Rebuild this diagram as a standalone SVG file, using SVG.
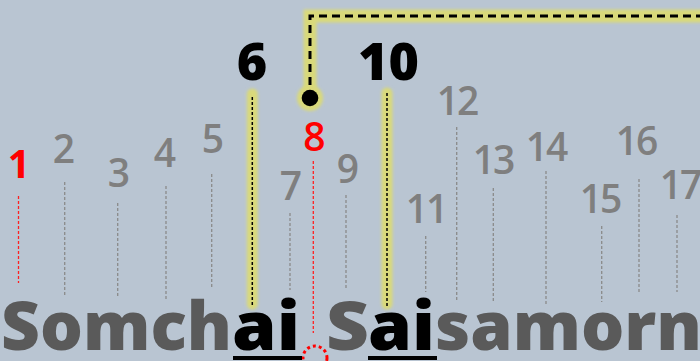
<svg xmlns="http://www.w3.org/2000/svg" width="700" height="361" viewBox="0 0 700 361">
<defs>
<filter id="glow" filterUnits="userSpaceOnUse" x="-20" y="-20" width="760" height="400"><feGaussianBlur stdDeviation="1.6"/></filter>
<style>
.lbl{font-family:"Open Sans","Noto Sans",sans-serif;font-size:39px;font-weight:600;fill:#7f7f7f;text-anchor:middle;letter-spacing:-2px}
.red{fill:#ff0000}
.big{font-family:"Open Sans","Noto Sans",sans-serif;font-size:52px;font-weight:800;fill:#000;text-anchor:middle}
.tick{stroke:#8a8a8a;stroke-width:1.3;stroke-dasharray:3 2;fill:none}
.tickr{stroke:#ff2020;stroke-width:1.3;stroke-dasharray:3 2;fill:none}
.hl{stroke:#d9d97a;stroke-width:11;stroke-linecap:round;fill:none;filter:url(#glow)}
.hlk{stroke:#000;stroke-width:1.5;stroke-dasharray:3 2;fill:none}
.name{font-family:"Open Sans","Noto Sans",sans-serif;font-size:67px;font-weight:800}
.g{fill:#5a5a5a}
.k{fill:#000}
</style>
</defs>
<rect width="700" height="361" fill="#b9c5d2"/>

<g id="connectors">
<path d="M310,98 V16 H712" stroke="#d9d97a" stroke-width="13" fill="none" filter="url(#glow)"/>
<circle cx="310" cy="98" r="13" fill="#d9d97a" filter="url(#glow)"/>
<path d="M310,98 V16 H712" stroke="#000" stroke-width="3" stroke-dasharray="8 5" fill="none"/>
<circle cx="310" cy="98" r="8.3" fill="#000"/>
</g>

<g id="node-1"><text class="lbl red" x="18" y="178" style="font-weight:700">1</text><line class="tickr" x1="18.5" y1="196" x2="18.5" y2="283"/></g>
<g id="node-2"><text class="lbl" x="63" y="163">2</text><line class="tick" x1="64.7" y1="182" x2="64.7" y2="297"/></g>
<g id="node-3"><text class="lbl" x="118" y="187">3</text><line class="tick" x1="117.7" y1="203" x2="117.7" y2="298"/></g>
<g id="node-4"><text class="lbl" x="164" y="167">4</text><line class="tick" x1="166" y1="186" x2="166" y2="300"/></g>
<g id="node-5"><text class="lbl" x="212" y="153">5</text><line class="tick" x1="211.7" y1="174" x2="211.7" y2="289"/></g>
<g id="node-6"><text class="big" x="252" y="80">6</text><line class="hl" x1="252.3" y1="94" x2="252.3" y2="304"/><line class="hlk" x1="252.3" y1="97" x2="252.3" y2="307"/></g>
<g id="node-7"><text class="lbl" x="290" y="200">7</text><line class="tick" x1="290" y1="213" x2="290" y2="290"/></g>
<g id="node-8"><text class="lbl red" x="313.5" y="151">8</text><line class="tickr" x1="313.3" y1="161" x2="313.3" y2="333"/><circle cx="315" cy="358" r="12" fill="none" stroke="#ff0000" stroke-width="3" stroke-dasharray="3 3"/></g>
<g id="node-9"><text class="lbl" x="347" y="183">9</text><line class="tick" x1="346" y1="195" x2="346" y2="289"/></g>
<g id="node-10"><text class="big" x="388.5" y="80">10</text><line class="hl" x1="387" y1="93" x2="387" y2="304"/><line class="hlk" x1="387" y1="93" x2="387" y2="307"/></g>
<g id="node-11"><text class="lbl" x="426" y="223">11</text><line class="tick" x1="425.7" y1="236" x2="425.7" y2="292"/></g>
<g id="node-12"><text class="lbl" x="457" y="115">12</text><line class="tick" x1="456.7" y1="127" x2="456.7" y2="300"/></g>
<g id="node-13"><text class="lbl" x="493" y="174">13</text><line class="tick" x1="493.3" y1="188" x2="493.3" y2="303"/></g>
<g id="node-14"><text class="lbl" x="546" y="161">14</text><line class="tick" x1="546" y1="171" x2="546" y2="306"/></g>
<g id="node-15"><text class="lbl" x="600" y="213">15</text><line class="tick" x1="601.7" y1="226" x2="601.7" y2="302"/></g>
<g id="node-16"><text class="lbl" x="636" y="155">16</text><line class="tick" x1="639" y1="179" x2="639" y2="294"/></g>
<g id="node-17"><text class="lbl" x="680" y="199">17</text><line class="tick" x1="677" y1="215" x2="677" y2="292"/></g>

<g id="name">
<text class="name g" x="1" y="350" textLength="231" lengthAdjust="spacingAndGlyphs">Somch</text>
<text class="name k" x="232" y="350" textLength="68" lengthAdjust="spacingAndGlyphs">ai</text>
<text class="name g" x="326" y="350" textLength="43" lengthAdjust="spacingAndGlyphs">S</text>
<text class="name k" x="368" y="350" textLength="67" lengthAdjust="spacingAndGlyphs">ai</text>
<text class="name g" x="435" y="350" textLength="267" lengthAdjust="spacingAndGlyphs">samorn</text>
<rect x="233" y="356" width="69" height="4" fill="#000"/>
<rect x="368" y="356" width="69" height="4" fill="#000"/>
</g>
</svg>
